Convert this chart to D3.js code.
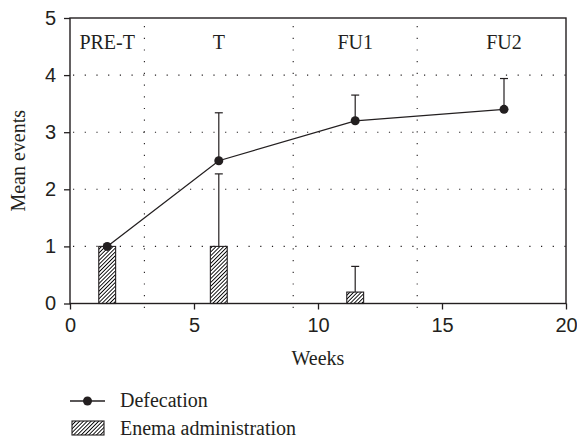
<!DOCTYPE html>
<html>
<head>
<meta charset="utf-8">
<script src="https://cdn.jsdelivr.net/npm/d3@7"></script>
<style>
  body { margin: 0; background: #fff; }
  svg { display: block; font-family: "Liberation Serif", "DejaVu Serif", serif; }
  text { fill: #231f20; }
</style>
</head>
<body>
<svg id="chart" width="577" height="440"></svg>
<script>
// data
const weeks = [1.5, 6, 11.5, 17.5]
const defecation = [1, 2.5, 3.2, 3.4]
const defecationErr = [0, 0.84, 0.45, 0.54]

const enemaWeeks = [1.5, 6, 11.5]
const enema = [1, 1, 0.2]
const enemaErr = [0, 1.27, 0.45]

const phases = ['PRE-T', 'T', 'FU1', 'FU2']
const phaseCenters = [1.5, 6, 11.5, 17.5]
const phaseBounds = [3, 9, 14]

const xTicks = [0, 5, 10, 15, 20]
const yTicks = [0, 1, 2, 3, 4, 5]

const ink = '#231f20'
const fs = 20
const margin = { left: 70, right: 11, top: 18, bottom: 136.5 }
const width = 577, height = 440

const svg = d3.select('#chart')

const x = d3.scaleLinear().domain([0, 20]).range([margin.left, width - margin.right])
const y = d3.scaleLinear().domain([0, 5]).range([height - margin.bottom, margin.top])

// hatch pattern
const defs = svg.append('defs')
const pat = defs.append('pattern')
    .attr('id', 'hatch')
    .attr('patternUnits', 'userSpaceOnUse')
    .attr('width', 2.7).attr('height', 2.7)
    .attr('patternTransform', 'rotate(45)')
pat.append('rect').attr('width', 2.7).attr('height', 2.7).attr('fill', '#fff')
pat.append('line')
    .attr('x1', 0).attr('y1', 0).attr('x2', 0).attr('y2', 2.7)
    .attr('stroke', '#000').attr('stroke-width', 1.8)

// dotted grid
svg.append('g')
    .selectAll('line')
    .data([1, 2, 3, 4])
    .enter().append('line')
    .attr('x1', x(0)).attr('x2', x(20))
    .attr('y1', d => y(d)).attr('y2', d => y(d))
    .attr('stroke', ink).attr('stroke-width', 1.1)
    .attr('stroke-dasharray', '1.2,10.5')
    .attr('transform', 'translate(3,0)')

svg.append('g')
    .selectAll('line')
    .data(phaseBounds)
    .enter().append('line')
    .attr('x1', d => x(d)).attr('x2', d => x(d))
    .attr('y1', y(5)).attr('y2', y(0))
    .attr('stroke', ink).attr('stroke-width', 1.1)
    .attr('stroke-dasharray', '1.2,10.5')
    .attr('transform', 'translate(0,8)')

// phase labels
svg.append('g')
    .selectAll('text')
    .data(phases)
    .enter().append('text')
    .attr('x', (d, i) => x(phaseCenters[i]))
    .attr('y', y(4.55) + 5)
    .attr('text-anchor', 'middle')
    .attr('font-size', fs)
    .text(d => d)

// enema bars + error bars
const barW = x(0.68) - x(0)
svg.append('g')
    .selectAll('rect')
    .data(enema)
    .enter().append('rect')
    .attr('x', (d, i) => x(enemaWeeks[i]) - barW / 2)
    .attr('y', d => y(d))
    .attr('width', barW)
    .attr('height', d => y(0) - y(d))
    .attr('fill', 'url(#hatch)')
    .attr('stroke', ink).attr('stroke-width', 1.1)

const errG = svg.append('g').attr('stroke', ink).attr('stroke-width', 1.2)
enema.forEach((v, i) => {
    if (!enemaErr[i]) return
    const cx = x(enemaWeeks[i])
    errG.append('line').attr('x1', cx).attr('x2', cx).attr('y1', y(v)).attr('y2', y(v + enemaErr[i]))
    errG.append('line').attr('x1', cx - 4).attr('x2', cx + 4).attr('y1', y(v + enemaErr[i])).attr('y2', y(v + enemaErr[i]))
})
defecation.forEach((v, i) => {
    if (!defecationErr[i]) return
    const cx = x(weeks[i])
    errG.append('line').attr('x1', cx).attr('x2', cx).attr('y1', y(v)).attr('y2', y(v + defecationErr[i]))
    errG.append('line').attr('x1', cx - 4).attr('x2', cx + 4).attr('y1', y(v + defecationErr[i])).attr('y2', y(v + defecationErr[i]))
})

// defecation line
const pts = weeks.map((w, i) => [w, defecation[i]])
svg.append('path')
    .datum(pts)
    .attr('fill', 'none')
    .attr('stroke', ink).attr('stroke-width', 1.3)
    .attr('d', d3.line().x(d => x(d[0])).y(d => y(d[1])))

svg.append('g')
    .selectAll('circle')
    .data(pts)
    .enter().append('circle')
    .attr('cx', d => x(d[0])).attr('cy', d => y(d[1]))
    .attr('r', 4.5).attr('fill', ink)

// frame
svg.append('rect')
    .attr('x', x(0)).attr('y', y(5))
    .attr('width', x(20) - x(0)).attr('height', y(0) - y(5))
    .attr('fill', 'none').attr('stroke', ink).attr('stroke-width', 1.4)

// axes
const xAxis = svg.append('g')
    .attr('transform', 'translate(0,' + y(0) + ')')
    .call(d3.axisBottom(x).tickValues(xTicks).tickSize(6).tickPadding(8).tickFormat(d3.format('d')))
const yAxis = svg.append('g')
    .attr('transform', 'translate(' + x(0) + ',0)')
    .call(d3.axisLeft(y).tickValues(yTicks).tickSize(6).tickPadding(8).tickFormat(d3.format('d')))

;[xAxis, yAxis].forEach(a => {
    a.select('.domain').remove()
    a.selectAll('line').attr('stroke', ink).attr('stroke-width', 1.3)
    a.selectAll('text').attr('font-size', fs).attr('font-family', null).style('fill', ink)
})

// axis titles
svg.append('text')
    .attr('x', x(10)).attr('y', 365)
    .attr('text-anchor', 'middle')
    .attr('font-size', fs)
    .text('Weeks')

svg.append('text')
    .attr('transform', 'translate(25,' + y(2.5) + ') rotate(-90)')
    .attr('text-anchor', 'middle')
    .attr('font-size', fs)
    .text('Mean events')

// legend
const lg = svg.append('g')
lg.append('line').attr('x1', 70).attr('x2', 105).attr('y1', 401).attr('y2', 401)
    .attr('stroke', ink).attr('stroke-width', 1.3)
lg.append('circle').attr('cx', 87.5).attr('cy', 401).attr('r', 4.5).attr('fill', ink)
lg.append('text').attr('x', 120).attr('y', 407).attr('font-size', fs).text('Defecation')
lg.append('rect').attr('x', 72).attr('y', 421).attr('width', 32).attr('height', 14)
    .attr('fill', 'url(#hatch)').attr('stroke', ink).attr('stroke-width', 1.1)
lg.append('text').attr('x', 120).attr('y', 435).attr('font-size', fs).text('Enema administration')
</script>
</body>
</html>
